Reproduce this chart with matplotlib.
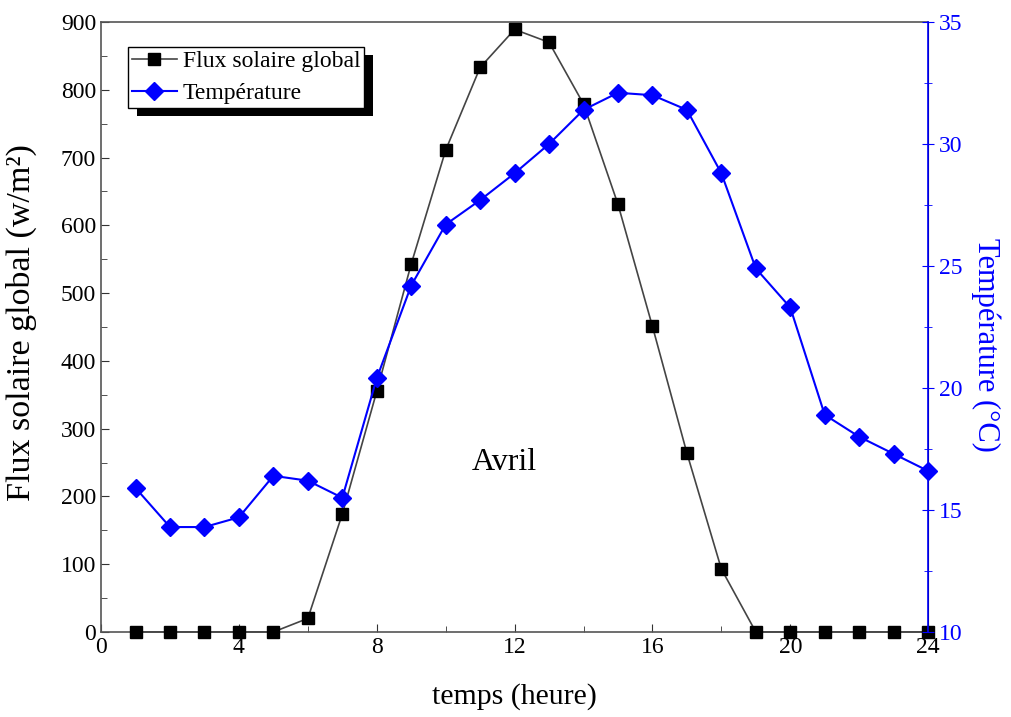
import matplotlib
matplotlib.use("Agg")
import matplotlib.pyplot as plt
from matplotlib.ticker import MultipleLocator
from matplotlib.patches import Rectangle

hours = list(range(1, 25))
flux = [0, 0, 0, 0, 0, 20, 174, 355, 543, 711, 833, 889, 870, 779, 631, 451, 264, 93,
        0, 0, 0, 0, 0, 0]
temperature = [15.9, 14.3, 14.3, 14.7, 16.4, 16.2, 15.5, 20.4, 24.2, 26.7, 27.7, 28.8,
               30.0, 31.4, 32.1, 32.0, 31.4, 28.8, 24.9, 23.3, 18.9, 18.0, 17.3, 16.6]

plt.rcParams['font.family'] = ['Liberation Serif', 'DejaVu Serif']

fig = plt.figure(figsize=(10.11, 7.17), dpi=100)
ax = fig.add_axes([0.1, 0.1186, 0.818, 0.8507])
ax2 = ax.twinx()

l1, = ax.plot(hours, flux, color='#444444', lw=1.2, marker='s', markersize=9,
              markerfacecolor='black', markeredgecolor='black', label='Flux solaire global',
              clip_on=False, zorder=3)
l2, = ax2.plot(hours, temperature, color='blue', lw=1.5, marker='D', markersize=9,
               markerfacecolor='blue', markeredgecolor='blue', label='Température',
               clip_on=False, zorder=3)

ax.set_xlim(0, 24)
ax.set_ylim(0, 900)
ax2.set_ylim(10, 35)

ax.xaxis.set_major_locator(MultipleLocator(4))
ax.xaxis.set_minor_locator(MultipleLocator(2))
ax.yaxis.set_major_locator(MultipleLocator(100))
ax.yaxis.set_minor_locator(MultipleLocator(50))
ax2.yaxis.set_major_locator(MultipleLocator(5))
ax2.yaxis.set_minor_locator(MultipleLocator(2.5))

ax.tick_params(axis='both', which='both', direction='in', labelsize=17, color='#333333')
ax.tick_params(which='major', length=6)
ax.tick_params(which='minor', length=4)
ax.tick_params(axis='y', which='both', left=True, right=False)
ax.tick_params(axis='x', which='both', top=False)
ax2.tick_params(axis='y', which='both', direction='inout', colors='blue', labelsize=17)
ax2.tick_params(which='major', length=8)
ax2.tick_params(which='minor', length=6)

for s in ['left', 'bottom', 'top']:
    ax.spines[s].set_color('#555555')
    ax.spines[s].set_linewidth(1.2)
ax2.spines['right'].set_color('blue')
ax2.spines['right'].set_linewidth(1.2)
for s in ['left', 'bottom', 'top']:
    ax2.spines[s].set_visible(False)

ax.set_xlabel('temps (heure)', fontsize=21.5, labelpad=18)
ax.set_ylabel('Flux solaire global (w/m²)', fontsize=24.5)
ax.yaxis.set_label_coords(-0.077, 0.508)
ax2.set_ylabel('Température (°C)', fontsize=22, color='blue', rotation=270)
ax2.yaxis.set_label_coords(1.088, 0.47)

ax.text(11.7, 250, 'Avril', fontsize=23, ha='center', va='center')

leg = ax2.legend([l1, l2], ['Flux solaire global', 'Température'], loc='upper left',
                 bbox_to_anchor=(0.033, 0.959), fontsize=17, frameon=True, fancybox=False,
                 edgecolor='black', facecolor='white', framealpha=1.0, borderpad=0.15,
                 handlelength=1.9, handletextpad=0.25, labelspacing=0.45, borderaxespad=0)
leg.get_frame().set_linewidth(1.0)
leg.set_zorder(10)

fig.canvas.draw()
bb = leg.get_window_extent()
shadow = Rectangle((bb.x0 + 9, bb.y0 - 8), bb.width, bb.height, transform=None,
                   facecolor='black', edgecolor='none', zorder=9)
ax2.add_artist(shadow)

fig.savefig('out.png', dpi=100)
